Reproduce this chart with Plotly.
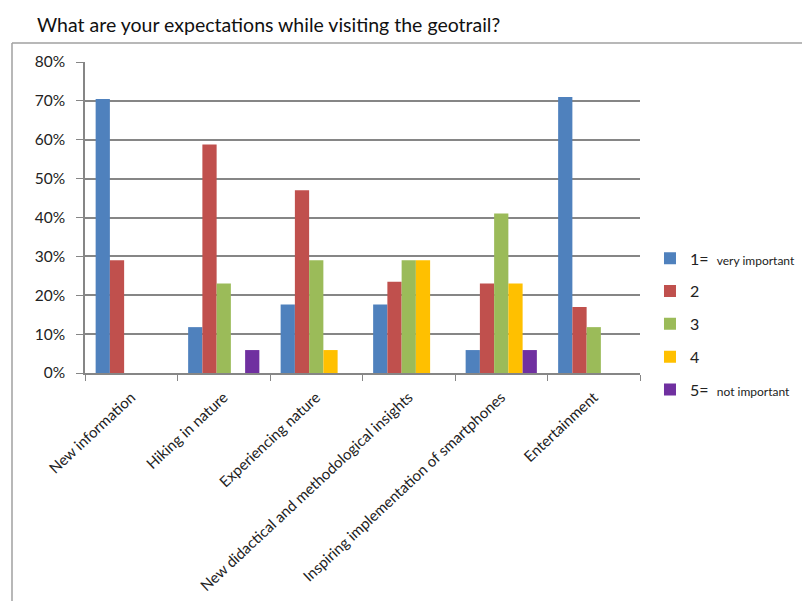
import plotly.graph_objects as go

categories = ["New information", "Hiking in nature", "Experiencing nature",
              "New didactical and methodological insights",
              "Inspiring implementation of smartphones", "Entertainment"]
s1 = [0.705, 0.118, 0.176, 0.176, 0.059, 0.71]
s2 = [0.29, 0.588, 0.47, 0.235, 0.23, 0.17]
s3 = [0.0, 0.23, 0.29, 0.29, 0.41, 0.118]
s4 = [0.0, 0.0, 0.059, 0.29, 0.23, 0.0]
s5 = [0.0, 0.059, 0.0, 0.0, 0.059, 0.0]
series_names = ["1=  <span style='font-size:12px'>very important</span>", "2", "3", "4",
                "5=  <span style='font-size:12px'>not important</span>"]
colors = ["#4F81BD", "#C0504D", "#9BBB59", "#FFC000", "#7030A0"]
values = [s1, s2, s3, s4, s5]

fig = go.Figure()
for i, (name, vals, col) in enumerate(zip(series_names, values, colors)):
    fig.add_trace(go.Bar(x=categories, y=vals, name=name, marker_color=col,
                         marker_line_width=0, legendgroup=f"g{i}"))

font = "Lato, 'Open Sans', sans-serif"
fig.update_layout(
    width=802, height=601,
    barmode="group", bargap=0.23, bargroupgap=0,
    paper_bgcolor="white", plot_bgcolor="white",
    margin=dict(l=85, r=162, t=62, b=228, autoexpand=False),
    font=dict(family=font, size=13, color="#222"),
    title=dict(text="What are your expectations while visiting the geotrail?",
               x=37/802, xanchor="left", y=1-25/601, yanchor="middle",
               font=dict(size=19.5, color="#111", family=font)),
    legend=dict(x=1.018, xanchor="left", y=0.158, yanchor="middle",
                font=dict(size=16, color="#222"), tracegroupgap=9,
                itemwidth=30, bgcolor="rgba(0,0,0,0)"),
    showlegend=True,
)
fig.update_yaxes(range=[0, 0.8], dtick=0.1, tickformat=".0%",
                 showgrid=True, gridcolor="#868686", gridwidth=1.5,
                 showline=True, linecolor="#868686", linewidth=1.5,
                 ticks="outside", ticklen=7, tickcolor="#868686",
                 ticklabelstandoff=8, tickfont=dict(size=15.5, color="#222"),
                 zeroline=False, automargin=False)
fig.update_xaxes(showline=True, linecolor="#868686", linewidth=1.5,
                 ticks="outside", tickson="boundaries", ticklen=6, tickcolor="#868686",
                 tickangle=-43, tickfont=dict(size=15, color="#222"),
                 ticklabelstandoff=8,
                 showgrid=False, automargin=False)

# chart frame (left and top border)
fig.add_shape(type="line", xref="paper", yref="paper",
              x0=(12-85)/555, x1=(12-85)/555, y0=(373-43)/311, y1=(373-610)/311,
              line=dict(color="#a0a0a0", width=1.5))
fig.add_shape(type="line", xref="paper", yref="paper",
              x0=(12-85)/555, x1=(810-85)/555, y0=(373-43)/311, y1=(373-43)/311,
              line=dict(color="#a0a0a0", width=1.5))

fig.write_html("out.html", config={"displayModeBar": False},
               post_script="document.body.style.margin='0';document.body.style.overflow='hidden';")
